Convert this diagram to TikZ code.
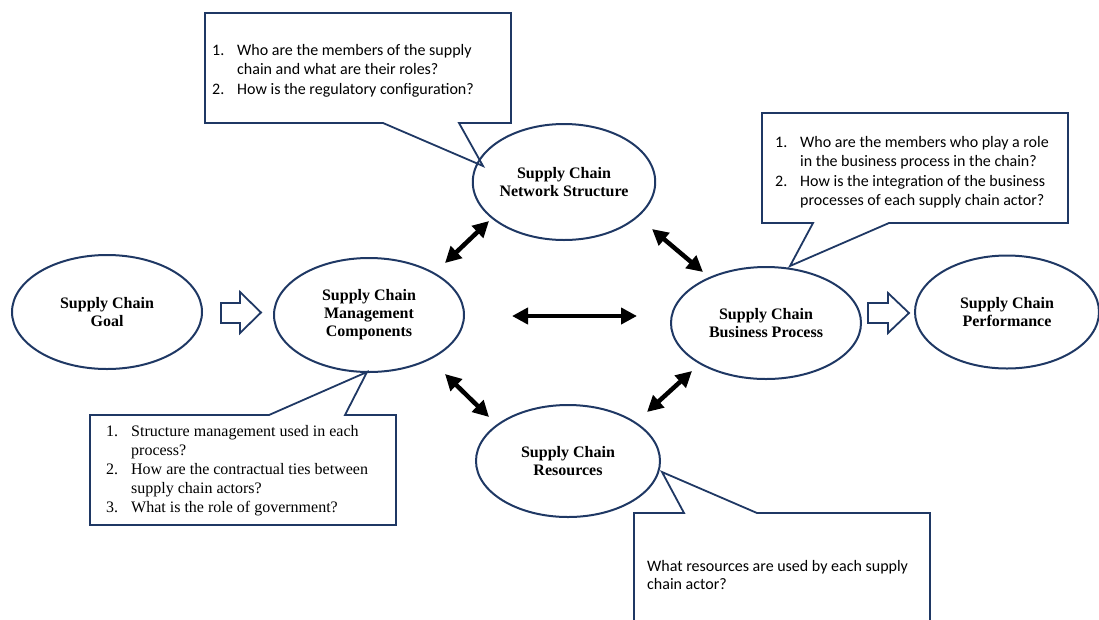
\documentclass[tikz,border=0pt]{standalone}
\usepackage{fontspec}
\setmainfont{Liberation Serif}
\newfontfamily\calib{Carlito}
\usetikzlibrary{shapes.geometric,arrows.meta}
\definecolor{navy}{HTML}{1F3864}
\newcommand{\qi}[2]{\hbox{\makebox[25pt][l]{#1}#2}}
\newcommand{\qblock}[2]{\vtop{\baselineskip=#1\lineskiplimit=-20pt\relax #2}}
\begin{document}
\begin{tikzpicture}[x=1pt,y=-1pt,
  oval/.style={ellipse,draw=navy,line width=2pt,inner sep=0pt,align=center,
    font=\bfseries\fontsize{16}{18}\selectfont},
  callout/.style={draw=navy,line width=1.8pt,fill=white,line join=miter},
  hollow/.style={draw=navy,line width=1.8pt,fill=white,line join=miter},
  dbl/.style={line width=4.5pt,{Triangle[length=16pt,width=16pt]}-{Triangle[length=16pt,width=16pt]}},
  qtext/.style={anchor=base west,inner sep=0pt},
  cal/.style={font=\calib\fontsize{16}{19.5}\selectfont},
  ser/.style={font=\fontsize{16}{19}\selectfont}
]
\useasboundingbox (0,0) rectangle (1099,619);

% callouts
\draw[callout] (205,13) -- (511,13) -- (511,123) -- (459,123) -- (483,166) -- (383,123) -- (205,123) -- cycle;
\draw[callout] (762,113) -- (1068,113) -- (1068,223) -- (889,223) -- (790,266) -- (813,223) -- (762,223) -- cycle;
\draw[callout] (90,415) -- (269,415) -- (367,372) -- (345,415) -- (396,415) -- (396,525) -- (90,525) -- cycle;
\draw[callout] (634,513) -- (684,513) -- (662,472) -- (757,513) -- (930,513) -- (930,640) -- (634,640) -- cycle;

\node[qtext,cal] (q1) at (212,55) {\qblock{19.5pt}{\qi{1.}{Who are the members of the supply}\qi{}{chain and what are their roles?}\qi{2.}{How is the regulatory configuration?}}};
\node[qtext,cal] (q2) at (775,147) {\qblock{19.5pt}{\qi{1.}{Who are the members who play a role}\qi{}{in the business process in the chain?}\qi{2.}{How is the integration of the business}\qi{}{processes of each supply chain actor?}}};
\node[qtext,ser] (q3) at (106,436) {\qblock{19pt}{\qi{1.}{Structure management used in each}\qi{}{process?}\qi{2.}{How are the contractual ties between}\qi{}{supply chain actors?}\qi{3.}{What is the role of government?}}};
\node[qtext,cal] (q4) at (647,571) {\qblock{18.5pt}{\hbox{What resources are used by each supply}\hbox{chain actor?}}};

% ellipses
\node[oval,minimum width=190pt,minimum height=114pt] (goal) at (107,312) {Supply Chain\\Goal};
\node[oval,minimum width=190pt,minimum height=114pt] (mgmt) at (369,315) {Supply Chain\\Management\\Components};
\node[oval,minimum width=176pt,minimum height=116pt] (net) at (564,182) {Supply Chain\\Network Structure};
\node[oval,minimum width=190pt,minimum height=112pt] (bp) at (766,323) {Supply Chain\\Business Process};
\node[oval,minimum width=184pt,minimum height=113pt] (perf) at (1007,312) {Supply Chain\\Performance};
\node[oval,minimum width=184pt,minimum height=112pt] (res) at (568,461) {Supply Chain\\Resources};

% hollow block arrows
\draw[hollow] (221,303) -- (240,303) -- (240,292) -- (261,312.5) -- (240,333) -- (240,323) -- (221,323) -- cycle;
\draw[hollow] (868,303) -- (888,303) -- (888,293) -- (909,313) -- (888,333) -- (888,323) -- (868,323) -- cycle;

% double arrows
\coordinate (mgmtA) at (445,263); \coordinate (netA) at (489,221);
\coordinate (netB) at (652,229); \coordinate (bpA) at (703,272);
\coordinate (mgmtB) at (512,316); \coordinate (bpB) at (637,316);
\coordinate (mgmtC) at (445,374); \coordinate (resA) at (489,417);
\coordinate (resB) at (647,412); \coordinate (bpC) at (692,371);
\draw[dbl] (mgmtA) -- (netA);
\draw[dbl] (netB) -- (bpA);
\draw[dbl] (mgmtB) -- (bpB);
\draw[dbl] (mgmtC) -- (resA);
\draw[dbl] (resB) -- (bpC);
\end{tikzpicture}
\end{document}
